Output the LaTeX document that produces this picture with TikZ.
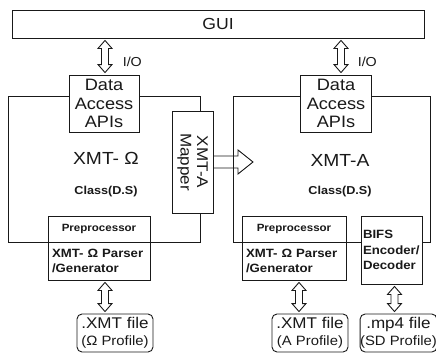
\documentclass[tikz,border=0pt]{standalone}
\usepackage{fontspec}
\setmainfont{Liberation Sans}[FakeStretch=1.1]
\usetikzlibrary{calc}

\begin{document}
\begin{tikzpicture}[x=1pt, y=-1pt, line width=0.9pt, color=black!90,
  box/.style={draw, fill=white, inner sep=0pt, align=center, font=\fontsize{16.5}{18.5}\selectfont},
  frame/.style={draw, inner sep=0pt},
  small/.style={box, font=\bfseries\fontsize{10.5}{12}\selectfont},
  parser/.style={box, align=left, font=\bfseries\fontsize{12}{15.5}\selectfont},
  file/.style={box, rounded corners=5pt, font=\fontsize{15.5}{17}\selectfont},
  title/.style={font=\fontsize{17.5}{20}\selectfont},
  cls/.style={font=\bfseries\fontsize{11.5}{13}\selectfont},
  io/.style={anchor=west, font=\fontsize{13}{15}\selectfont},
  % hollow double-headed arrow, x taken from the target (shifted by #1)
  dbl/.style={to path={let \p1=(\tikztostart), \p2=($(\tikztotarget)+(#1,0)$) in
    (\x2,\y1-2pt) -- (\x2+7pt,\y1-10pt) -- (\x2+3.5pt,\y1-10pt) -- (\x2+3.5pt,\y2+10pt)
    -- (\x2+7pt,\y2+10pt) -- (\x2,\y2+2pt) -- (\x2-7pt,\y2+10pt) -- (\x2-3.5pt,\y2+10pt)
    -- (\x2-3.5pt,\y1-10pt) -- (\x2-7pt,\y1-10pt) -- cycle}},
  % hollow block arrow pointing right
  blk/.style={to path={let \p1=(\tikztostart), \p2=(\tikztotarget) in
    (\x1,\y1+6pt) -- (\x2-15pt,\y1+6pt) -- (\x2-15pt,\y1+12pt) -- (\x2,\y1)
    -- (\x2-15pt,\y1-12pt) -- (\x2-15pt,\y1-6pt) -- (\x1,\y1-6pt)}}]
  \useasboundingbox (0,0) rectangle (436,356);

  \node[box, minimum width=412pt, minimum height=28pt, font=\fontsize{16}{18}\selectfont] (gui) at (218,24) {GUI};

  % XMT-Omega side
  \node[frame, minimum width=192pt, minimum height=146pt] (clsL) at (104.5,169) {};
  \node[box, minimum width=70pt, minimum height=57pt] (apiL) at (104,103.5) {Data\\Access\\APIs};
  \node[title] (nameL) at (106,158) {XMT- Ω};
  \node[cls] (clsnL) at (106,192) {Class(D.S)};
  \node[box, rotate=-90, minimum width=102pt, minimum height=41pt, font=\fontsize{15.5}{16.5}\selectfont] (mapper) at (192.5,162) {XMT-A\\Mapper};
  \node[small, minimum width=102pt, minimum height=26pt] (preL) at (99,229) {Preprocessor};
  \node[parser, minimum width=102pt, minimum height=38pt, text width=94pt] (parL) at (99,261) {XMT- Ω Parser\\/Generator};
  \node[io] (ioL) at (119,62) {I/O};

  % XMT-A side
  \node[frame, minimum width=197pt, minimum height=146pt] (clsR) at (331.5,169) {};
  \node[box, minimum width=71pt, minimum height=57pt] (apiR) at (336,103.5) {Data\\Access\\APIs};
  \node[title] (nameR) at (340,160) {XMT-A};
  \node[cls] (clsnR) at (340,192) {Class(D.S)};
  \node[small, minimum width=104pt, minimum height=26pt] (preR) at (294,229) {Preprocessor};
  \node[parser, minimum width=104pt, minimum height=38pt, text width=96pt] (parR) at (294,261) {XMT- Ω Parser\\/Generator};
  \node[parser, minimum width=61pt, minimum height=68pt, text width=57pt] (bifs) at (391.5,250) {BIFS\\Encoder/\\Decoder};
  \node[io] (ioR) at (354,62) {I/O};

  % files
  \node[file, minimum width=76pt, minimum height=38pt] (fileL) at (115,333) {.XMT file\\{\fontsize{13.5}{14}\selectfont(Ω Profile)}};
  \node[file, minimum width=76pt, minimum height=38pt] (fileM) at (310,333) {.XMT file\\{\fontsize{13.5}{14}\selectfont(A Profile)}};
  \node[file, minimum width=71pt, minimum height=38pt] (fileR) at (398.5,333) {.mp4 file\\{\fontsize{13.5}{14}\selectfont(SD Profile)}};

  \foreach \a/\b/\s in {gui.south/apiL.north/1pt, gui.south/apiR.north/5pt,
      parL.south/fileL.north/-10pt, parR.south/fileM.north/-11pt,
      bifs.south/fileR.north/-4pt}
    {\draw[dbl=\s] (\a) to (\b);}

  \coordinate (mapTip) at (253,162);
  \draw[blk] (mapper.north) to (mapTip);
\end{tikzpicture}
\end{document}
